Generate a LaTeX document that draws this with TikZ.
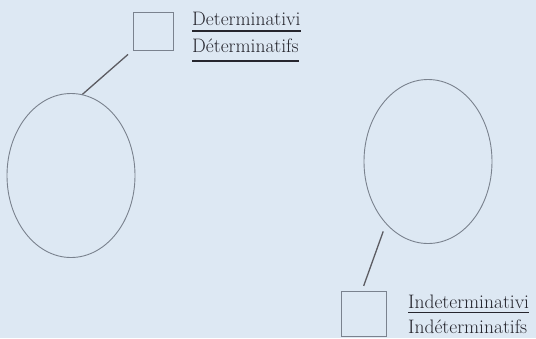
\documentclass[tikz,border=0pt]{standalone}
\usepackage{fontspec}
\usetikzlibrary{shapes.geometric}
\definecolor{fondbleu}{RGB}{221,232,243}
\definecolor{trait}{RGB}{122,130,142}
\definecolor{encre}{RGB}{38,38,46}
\begin{document}
\begin{tikzpicture}[x=1pt,y=-1pt,
    ovale/.style={ellipse, draw=trait, line width=0.9pt, minimum width=128pt, minimum height=164pt, inner sep=0pt},
    carre/.style={draw=trait, line width=0.9pt, inner sep=0pt},
    lien/.style={draw=encre!75, line width=1.3pt},
    mot/.style={anchor=base west, inner sep=0pt, text=encre, font=\fontsize{19.5}{21}\selectfont},
    souligne/.style={draw=encre, line width=1.4pt}]
        % Fond
        \fill[fondbleu] (0,0) rectangle (536,338);
        \useasboundingbox (0,0) rectangle (536,338);

        % Ovales
        \node[ovale] (gauche) at (71,175.5) {};
        \node[ovale] (droite) at (428,161.5) {};

        % Determinativi
        \node[carre, minimum width=40pt, minimum height=38pt] (cdet) at (153,31) {};
        \node[mot] (det1) at (192,25) {Determinativi};
        \node[mot] (det2) at (192,52) {D\'eterminatifs};
        \draw[souligne] ([yshift=-6pt]det1.base west) -- ([yshift=-6pt]det1.base east);
        \draw[souligne] ([yshift=-9pt]det2.base west) -- ([yshift=-9pt]det2.base east);
        \draw[lien, shorten >=6pt] (gauche.82) -- (cdet.south west);

        % Indeterminativi
        \node[carre, minimum width=45pt, minimum height=45pt] (cind) at (363.5,313.5) {};
        \node[mot] (ind1) at (408,308) {Indeterminativi};
        \node[mot] (ind2) at (408,333) {Ind\'eterminatifs};
        \draw[souligne] ([yshift=-4.5pt]ind1.base west) -- ([yshift=-4.5pt]ind1.base east);
        \draw[lien, shorten <=5pt, shorten >=8pt] ([xshift=-1.5pt]cind.north) -- (droite.236);
    \end{tikzpicture}
\end{document}
